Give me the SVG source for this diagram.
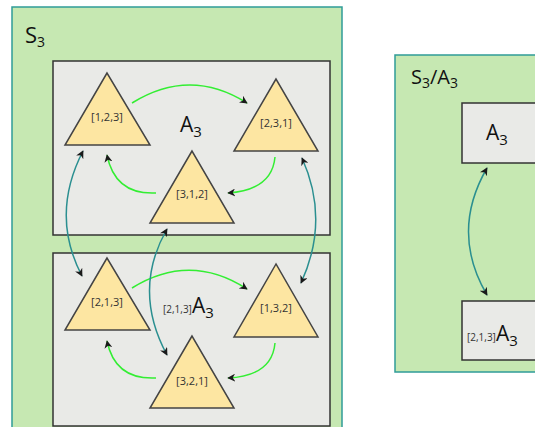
<svg xmlns="http://www.w3.org/2000/svg" width="535" height="427" viewBox="0 0 535 427">
  <defs>
    <marker id="head" viewBox="0 0 10 10" refX="9" refY="5" markerWidth="8" markerHeight="8" markerUnits="userSpaceOnUse" orient="auto-start-reverse">
      <path d="M0,0 L10,5 L0,10 L3,5 Z" fill="#1a1a1a"/>
    </marker>
    <style>
      .group { fill: #c6e8b2; stroke: #2f9c98; stroke-width: 1.5; }
      .coset { fill: #e9eae7; stroke: #333; stroke-width: 1.5; }
      .tri { fill: #fde6a2; stroke: #444; stroke-width: 1.5; stroke-linejoin: miter; }
      .lbl { font-family: "Open Sans", "DejaVu Sans", sans-serif; fill: #333; font-size: 11px; text-anchor: middle; }
      .big { font-family: "Open Sans", "DejaVu Sans", sans-serif; fill: #111; }
      .rot { fill: none; stroke: #33ee33; stroke-width: 1.5; marker-end: url(#head); }
      .swap { fill: none; stroke: #2a8f90; stroke-width: 1.5; marker-start: url(#head); marker-end: url(#head); }
    </style>
  </defs>

  <!-- S3 and its cosets -->
  <g id="S3">
    <rect class="group" x="12" y="7" width="330" height="430"/>
    <text class="big" x="25" y="43" font-size="22">S<tspan font-size="14" dy="4">3</tspan></text>
  </g>
  <g id="cosetA3">
    <rect class="coset" x="53" y="61" width="277" height="174"/>
    <text class="big" x="180" y="132" font-size="21">A<tspan font-size="15" dy="5">3</tspan></text>
  </g>
  <g id="coset213A3">
    <rect class="coset" x="53" y="253" width="277" height="173"/>
    <text class="big" x="163" y="313" font-size="21"><tspan font-size="10" fill="#333">[2,1,3]</tspan>A<tspan font-size="15" dy="5">3</tspan></text>
  </g>

  <!-- permutations -->
  <g id="p123"><polygon class="tri" points="107,73 65,145 150,145"/><text class="lbl" x="107" y="121">[1,2,3]</text></g>
  <g id="p231"><polygon class="tri" points="276,79 234,151 318,151"/><text class="lbl" x="276" y="127">[2,3,1]</text></g>
  <g id="p312"><polygon class="tri" points="192,151 150,223 234,223"/><text class="lbl" x="192" y="198">[3,1,2]</text></g>
  <g id="p213"><polygon class="tri" points="107,258 65,330 150,330"/><text class="lbl" x="107" y="306">[2,1,3]</text></g>
  <g id="p132"><polygon class="tri" points="276,264 234,337 318,337"/><text class="lbl" x="276" y="312">[1,3,2]</text></g>
  <g id="p321"><polygon class="tri" points="192,336 150,408 234,408"/><text class="lbl" x="192" y="385">[3,2,1]</text></g>

  <!-- quotient S3/A3 -->
  <g id="S3modA3">
    <rect class="group" x="395" y="55" width="150" height="317"/>
    <text class="big" x="411" y="84" font-size="20">S<tspan font-size="14" dy="4">3</tspan><tspan dy="-4">/A</tspan><tspan font-size="14" dy="4">3</tspan></text>
  </g>
  <g id="qA3">
    <rect class="coset" x="462" y="103" width="80" height="60"/>
    <text class="big" x="486" y="140" font-size="21">A<tspan font-size="15" dy="5">3</tspan></text>
  </g>
  <g id="q213A3">
    <rect class="coset" x="462" y="301" width="80" height="59"/>
    <text class="big" x="467" y="341" font-size="21"><tspan font-size="10" fill="#333">[2,1,3]</tspan>A<tspan font-size="15" dy="5">3</tspan></text>
  </g>

  <g id="connectors">
    <!-- rotations within each coset -->
    <path class="rot" d="M132,103 Q190,67 247,103"/>
    <path class="rot" d="M275,157 Q272,190 228,193"/>
    <path class="rot" d="M156,193 Q115,195 107,155"/>
    <path class="rot" d="M132,288 Q190,252 247,289"/>
    <path class="rot" d="M275,343 Q272,376 228,378"/>
    <path class="rot" d="M156,378 Q115,380 107,341"/>
    <!-- left multiplication by [2,1,3] -->
    <path class="swap" d="M83,151 Q50,215 82,276"/>
    <path class="swap" d="M167,229 Q132,290 167,355"/>
    <path class="swap" d="M302,158 Q330,220 301,283"/>
    <path class="swap" d="M487,168 Q450,232 487,295"/>
  </g>
</svg>
